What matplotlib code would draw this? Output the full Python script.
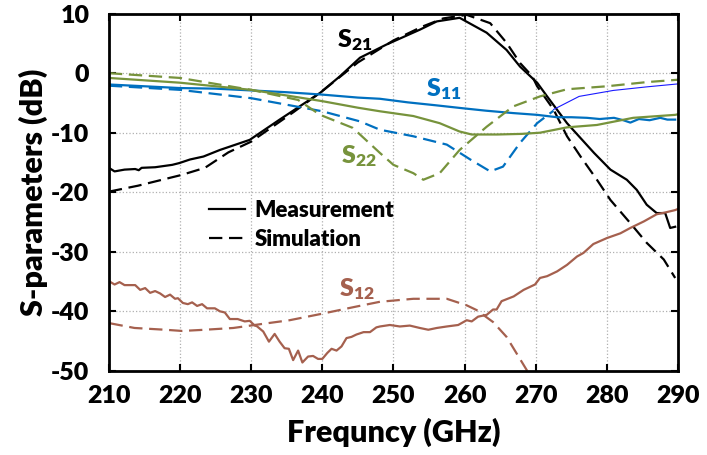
import matplotlib
matplotlib.use("Agg")
import matplotlib.pyplot as plt
from matplotlib.lines import Line2D

plt.rcParams['font.family'] = ['Lato', 'DejaVu Sans']
plt.rcParams['font.weight'] = 'bold'
plt.rcParams['mathtext.fontset'] = 'custom'
plt.rcParams['mathtext.rm'] = 'Lato:heavy'
plt.rcParams['mathtext.bf'] = 'Lato:heavy'

# S21
s21_meas_f = [210, 210.8, 212.2, 213.7, 214.2, 214.6, 216.5, 218.9, 219.9, 221.4, 223.3, 225.6,
              229.8, 234, 239.7, 242.5, 245.3, 249, 253.7, 256.1, 259.3, 263.1, 265.9, 267.8,
              270.2, 271.6, 274.4, 278.2, 280.5, 282.8, 284.2, 285.6, 287.0, 288.2, 288.9, 289.6]
s21_meas = [-15.9, -16.5, -16.2, -16.1, -16.3, -15.9, -15.8, -15.4, -15.1, -14.5, -14.0, -12.9,
            -11.2, -7.8, -3.3, -0.5, 2.6, 4.8, 7.3, 8.7, 9.3, 6.8, 3.9, 1.1,
            -1.6, -3.9, -8.4, -13.4, -16.2, -17.9, -19.6, -22.1, -23.5, -23.5, -26.0, -25.8]
s21_sim_f = [210, 214.1, 220.2, 223.5, 226.8, 230, 236, 240, 245, 250, 254, 257, 260.3, 263.6,
             265.9, 267.8, 269.5, 270.2, 272.5, 274.4, 276.3, 278.6, 280.5, 283.3, 285.6, 288.0, 289.6]
s21_sim = [-19.9, -18.9, -17.1, -15.9, -13.3, -11.5, -6.5, -3.0, 1.8, 5.5, 7.8, 9.2, 9.8, 8.4,
           5.1, 1.7, -0.5, -2.2, -6.1, -10.6, -14.0, -17.9, -21.3, -25.2, -28.5, -31.3, -34.4]

# S11
s11_meas_f = [210, 215, 220, 225, 230, 235, 240, 245, 248.1, 252, 256, 259.8, 263, 266.8, 270.2,
              273, 275, 277.2, 279, 281, 282.3, 283.3, 284.5, 286, 287.5, 288.5, 289.6]
s11_meas = [-1.9, -2.2, -2.5, -2.6, -2.9, -3.2, -3.6, -4.1, -4.3, -4.9, -5.4, -5.9, -6.3, -6.7, -7.0,
            -7.4, -7.4, -7.5, -7.7, -7.5, -7.9, -8.3, -7.7, -7.9, -7.5, -7.8, -7.8]
s11_sim_f = [210, 220, 230, 240, 245.3, 248.1, 252.8, 257.5, 260.8, 263.6, 265.4, 267.8, 270.2, 272.5]
s11_sim = [-2.1, -2.8, -4.2, -6.4, -8.1, -9.5, -10.6, -12.0, -14.5, -16.5, -15.7, -11.7, -8.4, -6.3]
s11_tail_f = [272.5, 276.1, 280.9, 285.6, 290]
s11_tail = [-6.1, -3.9, -2.9, -2.3, -1.8]

# S22
s22_meas_f = [210, 220, 230, 240, 245, 248.1, 252.8, 256.5, 259.3, 261, 264.6, 268, 270.6,
              274.4, 278.6, 283.7, 289.6, 290]
s22_meas = [-0.8, -1.6, -2.8, -4.7, -5.8, -6.4, -7.2, -8.4, -9.8, -10.3, -10.3, -10.2, -10.0,
            -9.1, -8.7, -7.5, -7.0, -6.9]
s22_sim_f = [210, 220, 230, 236.6, 239.7, 244.3, 248.1, 250, 252.8, 254.2, 256.5, 259.3, 263.1,
             266.8, 270.6, 274.4, 280, 285.6, 290]
s22_sim = [0.0, -0.8, -2.8, -4.5, -7.0, -9.2, -13.4, -15.4, -16.8, -17.9, -16.8, -12.9, -9.0,
           -5.6, -3.9, -2.7, -2.2, -1.5, -1.1]

# S12
s12_meas_f = [210.1, 210.8, 211.5, 212.2, 213.7, 214.4, 215.1, 215.8, 216.5, 217.2, 217.9, 218.6,
              219.3, 219.7, 220.4, 221.1, 221.7, 222.4, 223.1, 223.8, 224.9, 225.6, 226.3, 227,
              228.1, 229.1, 229.8, 230.5, 230.8, 231.7, 232.5, 233.3, 234.0, 234.7, 235.3, 235.9,
              236.6, 237.2, 238.0, 238.7, 239.4, 240.0, 240.7, 241.3, 242.0, 242.7, 243.4, 244.1,
              244.8, 245.8, 246.7, 247.6, 248.1, 249.5, 250.9, 252.3, 253.7, 254.9, 256.1, 257.5,
              259.1, 260.3, 261.0, 261.9, 263.1, 264.0, 264.5, 265.2, 266.9, 268.3, 269.9, 270.6,
              271.6, 273.0, 274.4, 275.8, 276.7, 278.1, 280.0, 281.9, 283.3, 285.2, 287.0, 288.2,
              289.6, 290]
s12_meas = [-35.0, -35.5, -35.1, -35.6, -35.6, -36.4, -36.1, -36.9, -36.6, -37.0, -37.6, -37.2,
            -37.9, -37.8, -38.6, -38.8, -38.5, -39.1, -38.8, -39.5, -39.5, -40.0, -40.2, -41.3,
            -41.3, -41.7, -41.6, -42.4, -42.5, -43.4, -45.1, -43.8, -45.1, -46.2, -46.3, -48.2,
            -46.6, -48.6, -47.6, -47.5, -48.0, -48.0, -47.0, -46.3, -46.6, -45.9, -44.5, -44.3,
            -43.9, -43.5, -43.5, -42.7, -42.55, -42.3, -42.55, -42.4, -42.8, -43.1, -42.8, -42.55,
            -42.3, -41.5, -41.7, -40.9, -40.6, -39.7, -39.7, -38.3, -37.5, -36.4, -35.5, -34.4,
            -34.1, -33.3, -32.2, -30.8, -30.2, -28.7, -27.7, -26.9, -26.0, -24.9, -23.7, -23.4,
            -23.0, -22.8]
s12_sim_f = [210.1, 213.6, 217.9, 220.3, 223.5, 227.5, 231.7, 235.4, 240, 244.8, 248.1, 252.8,
             257.5, 260.3, 261.7, 264.0, 265.9, 268.8]
s12_sim = [-42.0, -42.8, -43.1, -43.3, -43.1, -42.8, -42.1, -41.5, -40.4, -39.2, -38.4, -37.9,
           -37.9, -39.0, -39.8, -41.8, -44.3, -50.0]

x_ticks = [210, 220, 230, 240, 250, 260, 270, 280, 290]
y_ticks = [-50, -40, -30, -20, -10, 0, 10]

BLUE = '#0070C0'
GREEN = '#77933C'
BROWN = '#A5604E'
DASH = (6, 3)
W = 'heavy'

fig = plt.figure(figsize=(7.07, 4.55), dpi=100)
ax = fig.add_axes([0.154, 0.185, 0.805, 0.785])

lw = 1.6
ax.plot(s21_meas_f, s21_meas, color='black', lw=lw)
ax.plot(s21_sim_f, s21_sim, color='black', lw=lw, dashes=DASH)
ax.plot(s11_meas_f, s11_meas, color=BLUE, lw=lw)
ax.plot(s11_sim_f, s11_sim, color=BLUE, lw=lw, dashes=DASH)
ax.plot(s11_tail_f, s11_tail, color='#1a1aff', lw=0.8)
ax.plot(s22_meas_f, s22_meas, color=GREEN, lw=lw)
ax.plot(s22_sim_f, s22_sim, color=GREEN, lw=lw, dashes=DASH)
ax.plot(s12_meas_f, s12_meas, color=BROWN, lw=lw)
ax.plot(s12_sim_f, s12_sim, color=BROWN, lw=lw, dashes=DASH)

lab = dict(fontsize=18, ha='left', va='baseline')
ax.text(242.1, 4.3, r'$\mathbf{S_{21}}$', color='black', **lab)
ax.text(254.6, -3.9, r'$\mathbf{S_{11}}$', color=BLUE, **lab)
ax.text(242.6, -15.1, r'$\mathbf{S_{22}}$', color=GREEN, **lab)
ax.text(242.4, -37.5, r'$\mathbf{S_{12}}$', color=BROWN, **lab)

handles = [Line2D([], [], color='black', lw=lw),
           Line2D([], [], color='black', lw=lw, dashes=DASH)]
ax.legend(handles, ['Measurement', 'Simulation'], loc='upper left',
          bbox_to_anchor=(0.141, 0.535), frameon=False,
          prop={'size': 16, 'weight': W},
          handlelength=1.6, handletextpad=0.45, labelspacing=0.35)

ax.set_xlim(210, 290)
ax.set_ylim(-50, 10)
ax.set_xticks(x_ticks, [str(v) for v in x_ticks], fontweight=W)
ax.set_yticks(y_ticks, [str(v) for v in y_ticks], fontweight=W)
ax.grid(True, ls=':', color='#b0b0b0', lw=0.9)
ax.tick_params(direction='in', top=True, right=True, length=5, width=1.5,
               labelsize=18)
ax.tick_params(axis='y', pad=14)
ax.tick_params(axis='x', pad=10)
for sp in ax.spines.values():
    sp.set_linewidth(2)
ax.set_xlabel('Frequncy (GHz)', fontsize=22, fontweight=W, labelpad=8)
ax.set_ylabel('S-parameters (dB)', fontsize=22, fontweight=W, labelpad=2)

fig.savefig('out.png', dpi=100)
